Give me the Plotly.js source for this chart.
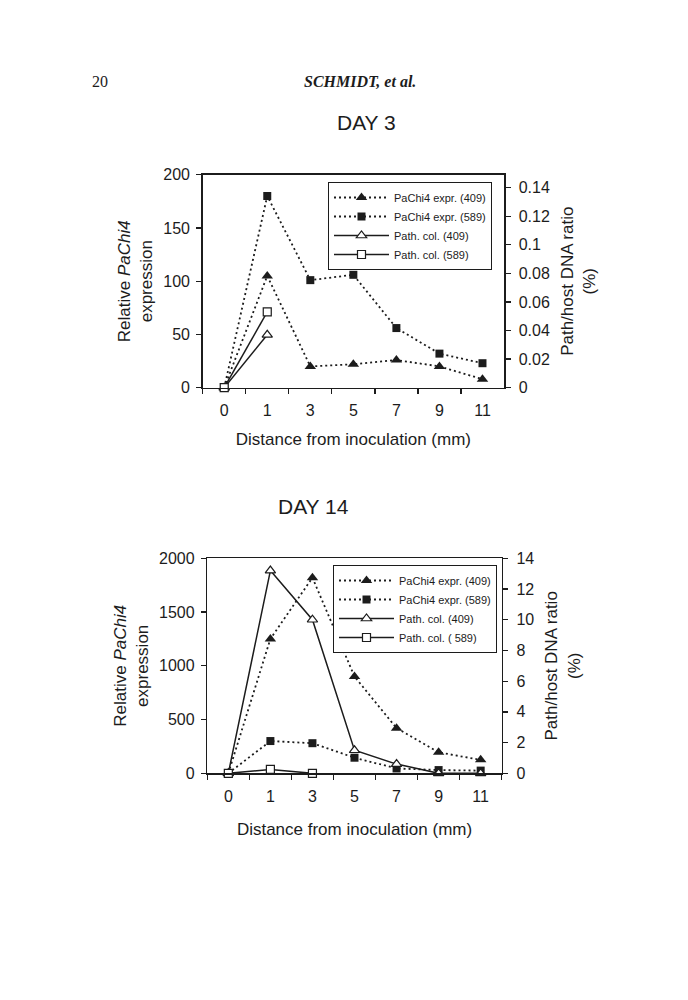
<!DOCTYPE html>
<html>
<head>
<meta charset="utf-8">
<script src="https://cdn.plot.ly/plotly-3.0.1.min.js"></script>
<style>
  body { margin: 0; background: #fff; }
  #chart { width: 688px; height: 1000px; }
</style>
</head>
<body>
<div id="chart"></div>
<script>
var distance = ["0", "1", "3", "5", "7", "9", "11"];
var boundaries = [-0.5, 0.5, 1.5, 2.5, 3.5, 4.5, 5.5, 6.5];

// day 3 (expression on left axis, colonisation on right axis)
var day3Expr409 = [0, 105, 20, 22, 26, 20, 8];
var day3Expr589 = [0, 180, 101, 106, 56, 32, 23];
var day3Col409 = [0, 0.037, null, null, null, null, null];
var day3Col589 = [0, 0.053, null, null, null, null, null];
var day3LeftTicks = [0, 50, 100, 150, 200];
var day3RightTicks = [0, 0.02, 0.04, 0.06, 0.08, 0.1, 0.12, 0.14];

// day 14
var day14Expr409 = [0, 1250, 1820, 900, 420, 195, 125];
var day14Expr589 = [0, 300, 280, 145, 45, 30, 25];
var day14Col409 = [0, 13.2, 10, 1.5, 0.6, 0, 0];
var day14Col589 = [0, 0.25, 0, null, null, null, null];
var day14LeftTicks = [0, 500, 1000, 1500, 2000];
var day14RightTicks = [0, 2, 4, 6, 8, 10, 12, 14];

var legendNames = ["PaChi4 expr. (409)", "PaChi4 expr. (589)", "Path. col. (409)", "Path. col. (589)"];
var legendNames14 = ["PaChi4 expr. (409)", "PaChi4 expr. (589)", "Path. col. (409)", "Path. col. ( 589)"];

var INK = "#1c1c1c";
var SANS = "Liberation Sans, Arial, sans-serif";
var SERIF = "Liberation Serif, Times New Roman, serif";

function exprTrace(y, name, symbol, size, xa, ya, leg) {
  return {
    x: distance, y: y, name: name, xaxis: xa, yaxis: ya, legend: leg,
    mode: "lines+markers", cliponaxis: false,
    line: {color: INK, width: 1.8, dash: "2px,3px"},
    marker: {symbol: symbol, size: size, color: INK}
  };
}

function colTrace(y, name, symbol, size, xa, ya, leg) {
  return {
    x: distance, y: y, name: name, xaxis: xa, yaxis: ya, legend: leg,
    mode: "lines+markers", cliponaxis: false,
    line: {color: INK, width: 1.5},
    marker: {symbol: symbol, size: size, color: "#fff", line: {color: INK, width: 1.2}}
  };
}

var traces = [
  exprTrace(day3Expr409, legendNames[0], "triangle-up", 10, "x", "y", "legend"),
  exprTrace(day3Expr589, legendNames[1], "square", 8, "x", "y", "legend"),
  colTrace(day3Col409, legendNames[2], "triangle-up", 9, "x", "y2", "legend"),
  colTrace(day3Col589, legendNames[3], "square", 8, "x", "y2", "legend"),
  exprTrace(day14Expr409, legendNames14[0], "triangle-up", 10, "x2", "y3", "legend2"),
  exprTrace(day14Expr589, legendNames14[1], "square", 8, "x2", "y3", "legend2"),
  colTrace(day14Col409, legendNames14[2], "triangle-up", 9, "x2", "y4", "legend2"),
  colTrace(day14Col589, legendNames14[3], "square", 8, "x2", "y4", "legend2")
];

var tickFont = {family: SANS, size: 16, color: INK};
var titleFont = {family: SANS, size: 17, color: INK};

function catAxis(domain, anchor, standoff) {
  return {
    domain: domain, anchor: anchor, type: "category", range: [-0.5, 6.5],
    tickson: "boundaries", ticks: "outside", ticklen: 5, tickwidth: 1.3, tickcolor: INK,
    showline: true, mirror: true, linecolor: INK, linewidth: 1.5,
    showgrid: false, zeroline: false, tickfont: tickFont, ticklabelstandoff: 8,
    title: {text: "Distance from inoculation (mm)", font: titleFont, standoff: standoff}
  };
}

function innerX(over, anchor) {
  return {
    overlaying: over, anchor: anchor, range: [-0.5, 6.5], tickvals: boundaries,
    ticks: "inside", ticklen: 5, tickwidth: 1.3, tickcolor: INK,
    showticklabels: false, showline: false, showgrid: false, zeroline: false
  };
}

function leftAxis(domain, anchor, range, vals) {
  return {
    domain: domain, anchor: anchor, range: range, tickvals: vals,
    ticks: "outside", ticklen: 5, tickwidth: 1.3, tickcolor: INK,
    showline: true, linecolor: INK, linewidth: 1.5,
    showgrid: false, zeroline: false, tickfont: tickFont, ticklabelstandoff: 3,
    title: {text: "Relative <i>PaChi4</i><br>expression", font: titleFont, standoff: 6}
  };
}

function rightAxis(over, anchor, range, vals, standoff) {
  return {
    overlaying: over, anchor: anchor, side: "right", range: range, tickvals: vals,
    ticktext: vals.map(String),
    ticks: "outside", ticklen: 5, tickwidth: 1.3, tickcolor: INK,
    showline: true, linecolor: INK, linewidth: 1.5,
    showgrid: false, zeroline: false, tickfont: tickFont, ticklabelstandoff: 5,
    title: {text: "Path/host DNA ratio<br>(%)", font: titleFont, standoff: standoff}
  };
}

function innerY(over, anchor, range, vals) {
  return {
    overlaying: over, anchor: anchor, side: "right", range: range, tickvals: vals,
    ticks: "inside", ticklen: 5, tickwidth: 1.3, tickcolor: INK,
    showticklabels: false, showline: false, showgrid: false, zeroline: false
  };
}

function legendBox(x, y) {
  return {
    x: x, y: y, xanchor: "left", yanchor: "top",
    bgcolor: "#fff", bordercolor: INK, borderwidth: 1,
    font: {family: SANS, size: 11, color: INK},
    itemwidth: 55, tracegroupgap: 0
  };
}

function pageText(text, px, py, font) {
  return {
    text: text, x: px / 688, y: 1 - py / 1000, xref: "paper", yref: "paper",
    xanchor: "center", yanchor: "middle", showarrow: false, font: font
  };
}

var topX = [202.7 / 688, 504 / 688];
var topY = [1 - 387.7 / 1000, 1 - 174.7 / 1000];
var botX = [207.3 / 688, 501.7 / 688];
var botY = [1 - 773.3 / 1000, 1 - 558.3 / 1000];

var layout = {
  width: 688, height: 1000,
  margin: {l: 0, r: 0, t: 0, b: 0},
  paper_bgcolor: "#fff", plot_bgcolor: "rgba(0,0,0,0)",
  font: {family: SANS, color: INK},
  showlegend: true,
  xaxis: catAxis(topX, "y", 14),
  xaxis2: catAxis(botX, "y3", 19),
  xaxis3: innerX("x", "y"),
  xaxis4: innerX("x2", "y3"),
  yaxis: leftAxis(topY, "x", [0, 200], day3LeftTicks),
  yaxis2: rightAxis("y", "x", [0, 0.149], day3RightTicks, 12),
  yaxis3: leftAxis(botY, "x2", [0, 2000], day14LeftTicks),
  yaxis4: rightAxis("y3", "x2", [0, 14], day14RightTicks, 12),
  yaxis5: innerY("y", "x", [0, 0.149], day3RightTicks),
  yaxis6: innerY("y3", "x2", [0, 14], day14RightTicks),
  legend: legendBox(328 / 688, 1 - 182 / 1000),
  legend2: legendBox(333 / 688, 1 - 565 / 1000),
  annotations: [
    pageText("20", 100, 82, {family: SERIF, size: 16, color: INK}),
    pageText("<b><i>SCHMIDT, et al.</i></b>", 360, 82, {family: SERIF, size: 16, color: INK}),
    pageText("DAY 3", 367, 122, {family: SANS, size: 21, color: INK}),
    pageText("DAY 14", 313, 506, {family: SANS, size: 21, color: INK})
  ]
};

Plotly.newPlot("chart", traces, layout, {displayModeBar: false, staticPlot: true});
</script>
</body>
</html>
